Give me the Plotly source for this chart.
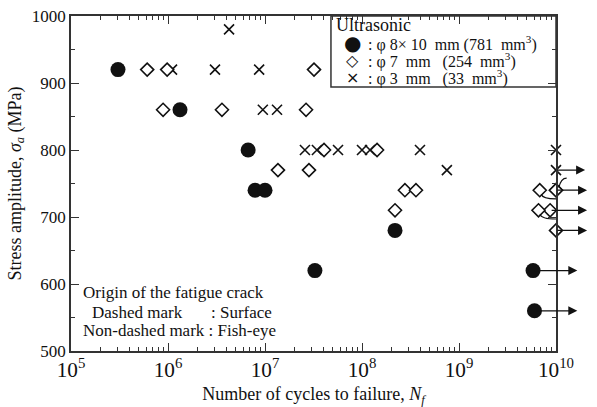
import numpy as np
import plotly.graph_objects as go

# ---------------- data ----------------
# phi 8x10 mm (781 mm^3) - filled circles
circle_N = [3.05e5, 1.33e6, 6.7e6, 7.9e6, 1.0e7, 3.27e7, 2.19e8]
circle_S = [920, 860, 800, 740, 740, 620, 680]
circle_runout_N = [5.8e9, 6.0e9]
circle_runout_S = [620, 560]

# phi 7 mm (254 mm^3) - open diamonds
diamond_N = [6.1e5, 9.8e5, 3.2e7, 8.9e5, 3.6e6, 2.65e7, 4.06e7, 1.43e8,
             1.36e7, 2.84e7, 2.77e8, 3.6e8, 2.19e8]
diamond_S = [920, 920, 920, 860, 860, 860, 800, 800, 770, 770, 740, 740, 710]
diamond_runout_N = [1.0e10, 8.7e9, 1.0e10]
diamond_runout_S = [740, 710, 680]
diamond_offset_N = [6.8e9, 6.6e9, 1.0e10]
diamond_offset_S = [740, 710, 740]
diamond_offset_arrow_S = [727, 697, 758]

# phi 3 mm (33 mm^3) - crosses
cross_N = [4.26e6, 1.1e6, 3.05e6, 8.7e6, 9.5e6, 1.33e7, 2.58e7, 3.43e7,
           5.66e7, 1.0e8, 1.21e8, 3.96e8, 7.5e8, 1.0e10]
cross_S = [980, 920, 920, 920, 860, 860, 800, 800, 800, 800, 800, 800, 770, 800]
cross_runout_N = [1.0e10]
cross_runout_S = [770]
cross_runout_count = ["2"]

legend_title = "Ultrasonic"
legend_symbols = ["\u25cf", "\u25c7", "\u00d7"]
legend_labels = [": \u03c6 8\u00d7 10  mm (781  mm<sup>3</sup>)",
                 ": \u03c6 7  mm   (254  mm<sup>3</sup>)",
                 ": \u03c6 3  mm   (33  mm<sup>3</sup>)"]

# ---------------- style ----------------
FONT = "Liberation Serif"
INK = "#111111"
X_RANGE = [5, 10]
Y_RANGE = [500, 1000]
PLOT_W = 597 - 71 - 41

fig = go.Figure()

circ_m = dict(symbol="circle", size=15, color=INK)
dia_m = dict(symbol="diamond", size=10, color="white", line=dict(color=INK, width=1.6))
cross_m = dict(symbol="x-thin", size=10, color=INK, line=dict(color=INK, width=1.6))

fig.add_trace(go.Scatter(x=cross_N, y=cross_S, mode="markers", marker=cross_m,
                         cliponaxis=False))
fig.add_trace(go.Scatter(x=cross_runout_N, y=cross_runout_S, mode="markers",
                         marker=cross_m, cliponaxis=False))
fig.add_trace(go.Scatter(x=diamond_N, y=diamond_S, mode="markers", marker=dia_m,
                         cliponaxis=False))
fig.add_trace(go.Scatter(x=diamond_runout_N + diamond_offset_N,
                         y=diamond_runout_S + diamond_offset_S, mode="markers",
                         marker=dia_m, cliponaxis=False))
fig.add_trace(go.Scatter(x=circle_N, y=circle_S, mode="markers", marker=circ_m,
                         cliponaxis=False))
fig.add_trace(go.Scatter(x=circle_runout_N, y=circle_runout_S, mode="markers",
                         marker=circ_m, cliponaxis=False))


def arrow(x_start_log, y, x_end_log):
    fig.add_annotation(x=x_end_log, y=y, xref="x", yref="y",
                       ax=x_start_log, ay=y, axref="x", ayref="y",
                       showarrow=True, arrowhead=2, arrowsize=1.5, arrowwidth=1.2,
                       arrowcolor=INK, text="")


# straight run-out arrows
for n, s in zip(circle_runout_N, circle_runout_S):
    arrow(np.log10(n), s, 10.22)
for n, s in zip(diamond_runout_N, diamond_runout_S):
    arrow(np.log10(n), s, 10.32)
for n, s, c in zip(cross_runout_N, cross_runout_S, cross_runout_count):
    arrow(np.log10(n), s, 10.30)
    fig.add_annotation(x=10.33, y=s, xref="x", yref="y", text=c, showarrow=False,
                       xanchor="left", font=dict(family=FONT, size=15, color=INK))


def to_paper(n):
    return (np.log10(n) - X_RANGE[0]) / (X_RANGE[1] - X_RANGE[0])


# offset run-outs: leader curve then arrow
for n, s, sa in zip(diamond_offset_N, diamond_offset_S, diamond_offset_arrow_S):
    p = to_paper(n)
    if sa < s:
        p_end = 1.0
        path = f"M {p + 0.003},{s - 6} Q {p + 0.006},{sa} {p_end},{sa}"
    else:
        p_end = 1.022
        path = f"M {p + 0.006},{s + 4} Q {p + 0.01},{sa} {p_end},{sa}"
    fig.add_shape(type="path", path=path, xref="paper", yref="y",
                  line=dict(color=INK, width=1.2))
    fig.add_annotation(x=10.3, y=sa, xref="x", yref="y",
                       ax=-((10.3 - X_RANGE[0]) / 5 - p_end) * PLOT_W, ay=0,
                       showarrow=True, arrowhead=2, arrowsize=1.5, arrowwidth=1.2,
                       arrowcolor=INK, text="")

# legend box (manual)
fig.add_shape(type="rect", xref="paper", yref="paper", x0=0.536, x1=1.0, y0=0.788, y1=1.0,
              line=dict(color="#333333", width=1.5), fillcolor="white", layer="below")
leg_font = dict(family=FONT, size=16, color=INK)
fig.add_annotation(x=0.542, y=0.972, xref="paper", yref="paper", text=legend_title,
                   showarrow=False, xanchor="left", yanchor="middle",
                   font=dict(family=FONT, size=18, color=INK))
for i, (sym, lab) in enumerate(zip(legend_symbols, legend_labels)):
    yy = 0.918 - i * 0.051
    fig.add_annotation(x=0.580, y=yy, xref="paper", yref="paper", text=sym,
                       showarrow=False, xanchor="center", yanchor="middle",
                       font=dict(family="DejaVu Sans", size=20 if i == 0 else 16, color=INK))
    fig.add_annotation(x=0.608, y=yy, xref="paper", yref="paper", text=lab,
                       showarrow=False, xanchor="left", yanchor="middle", font=leg_font)

# origin-of-crack note
note_font = dict(family=FONT, size=17, color=INK)
for txt, x, y in [("Origin of the fatigue crack", 0.021, 0.176),
                  ("Dashed mark", 0.039, 0.116),
                  (": Surface", 0.285, 0.116),
                  ("Non-dashed mark : Fish-eye", 0.021, 0.06)]:
    fig.add_annotation(x=x, y=y, xref="paper", yref="paper", text=txt,
                       showarrow=False, xanchor="left", yanchor="middle", font=note_font)

axis_common = dict(showline=True, linecolor="#333333", linewidth=1.5, mirror="ticks",
                   ticks="inside", ticklen=8, tickwidth=1.2, tickcolor="#333333",
                   showgrid=False, zeroline=False, automargin=False,
                   tickfont=dict(family=FONT, size=17, color=INK))

fig.update_xaxes(type="log", range=X_RANGE, dtick=1, exponentformat="power",
                 minor=dict(ticks="inside", ticklen=4, tickcolor="#333333", dtick="D1",
                            showgrid=False),
                 title=dict(text="Number of cycles to failure, <i>N<sub>f</sub></i>",
                            font=dict(family=FONT, size=18, color=INK), standoff=6),
                 **axis_common)
fig.update_yaxes(range=Y_RANGE, dtick=100,
                 minor=dict(ticks="inside", ticklen=4, tickcolor="#333333", dtick=50,
                            showgrid=False),
                 title=dict(text="Stress amplitude, <i>\u03c3<sub>a</sub></i> (MPa)",
                            font=dict(family=FONT, size=18, color=INK), standoff=6),
                 **axis_common)

fig.update_layout(
    width=597, height=407,
    margin=dict(l=71, r=41, t=16, b=56, autoexpand=False),
    paper_bgcolor="white", plot_bgcolor="white",
    font=dict(family=FONT, size=15, color=INK),
    showlegend=False,
)

fig.write_html("out.html",
               config={"displayModeBar": False},
               post_script="document.body.style.margin='0';"
                           "document.body.style.overflow='hidden';")
